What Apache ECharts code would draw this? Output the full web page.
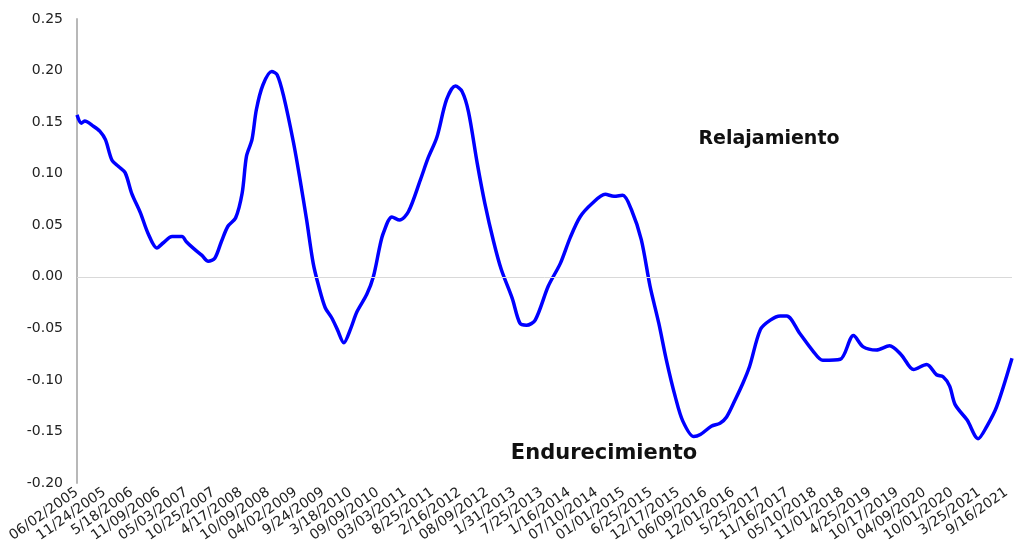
<!DOCTYPE html>
<html lang="es">
<head>
    <meta charset="UTF-8">
    <title>echarts</title>
    <script src="https://cdn.jsdelivr.net/npm/echarts@6/dist/echarts.min.js"></script>
    <style>
        html, body { margin: 0; padding: 0; background: #fff; }
    </style>
</head>
<body>
<div id="main" style="width: 1018px; height: 551px;"></div>
<script type="text/javascript">
    // etiquetas del eje x (cada 25 semanas)
    let tickLabels = ["06/02/2005", "11/24/2005", "5/18/2006", "11/09/2006", "05/03/2007", "10/25/2007",
        "4/17/2008", "10/09/2008", "04/02/2009", "9/24/2009", "3/18/2010", "09/09/2010", "03/03/2011",
        "8/25/2011", "2/16/2012", "08/09/2012", "1/31/2013", "7/25/2013", "1/16/2014", "07/10/2014",
        "01/01/2015", "6/25/2015", "12/17/2015", "06/09/2016", "12/01/2016", "5/25/2017", "11/16/2017",
        "05/10/2018", "11/01/2018", "4/25/2019", "10/17/2019", "04/09/2020", "10/01/2020", "3/25/2021",
        "9/16/2021"];

    // semana (desde 06/02/2005) y valor
    let weeks = [0, 4, 7, 15, 21, 26, 32, 38, 44, 50, 58, 65, 73, 79, 87, 96, 100, 106, 114, 120,
        126, 132, 138, 145, 151, 155, 160, 164, 170, 178, 183, 189, 198, 204, 210, 216, 221, 227,
        233, 238, 244, 250, 256, 265, 271, 277, 280, 288, 295, 303, 314, 321, 329, 338, 346, 352,
        358, 366, 373, 381, 388, 398, 405, 411, 419, 431, 442, 451, 460, 471, 483, 491, 499, 507,
        516, 524, 532, 539, 547, 554, 564, 570, 580, 588, 594, 602, 609, 615, 625, 634, 643, 649,
        661, 673, 682, 698, 710, 719, 731, 743, 754, 765, 777, 786, 792, 798, 803, 814, 824, 832,
        841, 855];
    let values = [0.157, 0.149, 0.151, 0.146, 0.141, 0.133, 0.113, 0.107, 0.101, 0.081, 0.062, 0.042,
        0.028, 0.033, 0.039, 0.039, 0.034, 0.028, 0.021, 0.015, 0.018, 0.034, 0.049, 0.057, 0.081,
        0.117, 0.133, 0.162, 0.186, 0.199, 0.196, 0.175, 0.130, 0.094, 0.055, 0.013, -0.009, -0.030,
        -0.040, -0.051, -0.064, -0.051, -0.034, -0.017, 0.000, 0.030, 0.042, 0.058, 0.055, 0.063,
        0.094, 0.115, 0.135, 0.172, 0.185, 0.180, 0.160, 0.110, 0.071, 0.034, 0.007, -0.021, -0.045,
        -0.047, -0.042, -0.009, 0.013, 0.038, 0.058, 0.071, 0.080, 0.078, 0.079, 0.065, 0.036,
        -0.009, -0.045, -0.081, -0.116, -0.140, -0.155, -0.153, -0.145, -0.142, -0.136, -0.119,
        -0.103, -0.087, -0.051, -0.042, -0.038, -0.038, -0.055, -0.072, -0.081, -0.080, -0.057,
        -0.068, -0.071, -0.067, -0.076, -0.090, -0.085, -0.095, -0.097, -0.106, -0.124, -0.139,
        -0.157, -0.145, -0.126, -0.079];

    let seriesData = weeks.map(function (w, i) { return [w, values[i]]; });

    let myChart = echarts.init(document.getElementById("main"));

    let option = {
        animation: false,
        textStyle: { fontFamily: 'DejaVu Sans' },
        grid: { left: 77, right: 6, top: 19, bottom: 68 },
        xAxis: {
            type: 'value',
            min: 0,
            max: 855,
            interval: 25,
            axisLine: { show: false },
            axisTick: { show: false },
            splitLine: { show: false },
            axisLabel: {
                rotate: 35,
                margin: 8,
                fontSize: 14,
                color: '#222',
                fontFamily: 'DejaVu Sans',
                formatter: function (v) {
                    return v % 25 === 0 ? (tickLabels[v / 25] || '') : '';
                }
            }
        },
        yAxis: {
            type: 'value',
            min: -0.2,
            max: 0.25,
            interval: 0.05,
            axisLine: { show: true, lineStyle: { color: '#b8b8b8', width: 2 } },
            axisTick: { show: false },
            splitLine: { show: false },
            axisLabel: {
                margin: 14,
                fontSize: 14,
                color: '#222',
                fontFamily: 'DejaVu Sans',
                formatter: function (v) { return v.toFixed(2); }
            }
        },
        series: [{
            type: 'line',
            data: seriesData,
            smooth: 0.3,
            symbol: 'none',
            lineStyle: { color: '#0000ff', width: 3.5 },
            markLine: {
                silent: true,
                symbol: 'none',
                label: { show: false },
                lineStyle: { color: '#d9d9d9', type: 'solid', width: 1 },
                data: [{ yAxis: 0 }]
            }
        }],
        graphic: [
            {
                type: 'text', x: 769, y: 139,
                style: {
                    text: 'Relajamiento', fill: '#111', align: 'center', verticalAlign: 'middle',
                    font: 'bold 19px "DejaVu Sans"'
                }
            },
            {
                type: 'text', x: 604, y: 454,
                style: {
                    text: 'Endurecimiento', fill: '#111', align: 'center', verticalAlign: 'middle',
                    font: 'bold 21px "DejaVu Sans"'
                }
            }
        ]
    };

    myChart.setOption(option);
</script>
</body>
</html>
